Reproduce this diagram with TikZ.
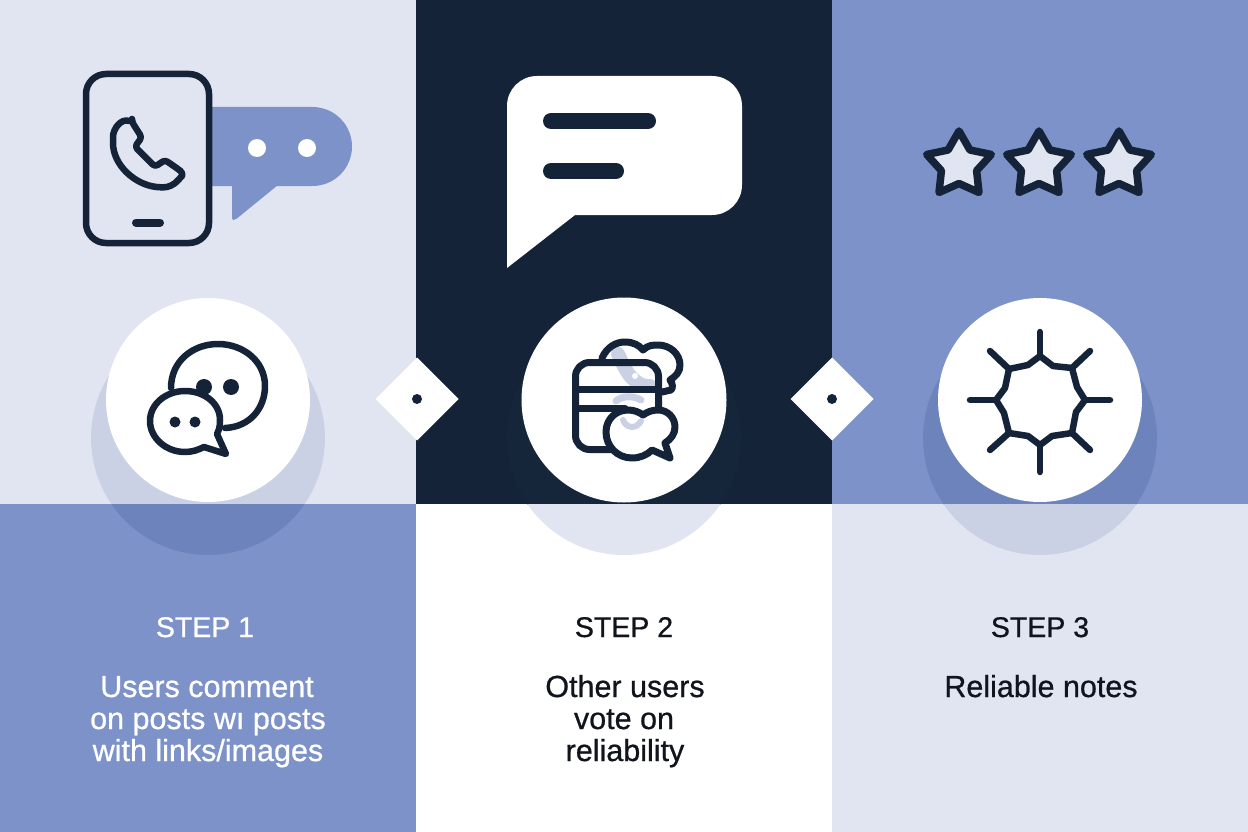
\documentclass[tikz,border=0pt]{standalone}
\usepackage{fontspec}
\setmainfont{Liberation Sans}
\newfontfamily\medfont[FakeBold=0.7]{Liberation Sans}
\definecolor{pale}{HTML}{E1E4F1}
\definecolor{navy}{HTML}{142337}
\definecolor{midblue}{HTML}{7C92C8}
\definecolor{shpale}{HTML}{CBD1E5}
\definecolor{shblue}{HTML}{6C83BC}
\definecolor{shnavy}{HTML}{15253A}
\definecolor{ink}{HTML}{10141C}
\tikzset{
  icon/.style={draw=navy,line width=6.5pt,line cap=round,line join=round},
  steptitle/.style={anchor=base,inner sep=0pt,font=\medfont\fontsize{28.5}{30}\selectfont},
  steptext/.style={anchor=base,inner sep=0pt,font=\medfont\fontsize{30.5}{32}\selectfont},
  starshape/.style={icon,fill=pale,line width=7.5pt},
  ghost/.style={draw=shpale,line cap=round}
}
\newcommand{\drawstar}[1]{%
  \draw[starshape,shift={(#1,165)}] (0,-34) -- (10.9,-15) -- (32.3,-10.5) -- (17.6,5.7) -- (20,27.5)
  -- (0,18.5) -- (-20,27.5) -- (-17.6,5.7) -- (-32.3,-10.5) -- (-10.9,-15) -- cycle;}
\begin{document}
\begin{tikzpicture}[x=1pt,y=-1pt]
\useasboundingbox (0,0) rectangle (1248,832);
% panels
\fill[pale] (0,0) rectangle (416,504);
\fill[navy] (416,0) rectangle (832,504);
\fill[midblue] (832,0) rectangle (1248,504);
\fill[midblue] (0,504) rectangle (416,832);
\fill[white] (416,504) rectangle (832,832);
\fill[pale] (832,504) rectangle (1248,832);
% shadow discs
\begin{scope}\clip (0,0) rectangle (416,504); \fill[shpale] (208,438) circle[radius=117pt]; \end{scope}
\begin{scope}\clip (0,504) rectangle (416,832); \fill[shblue] (208,438) circle[radius=117pt]; \end{scope}
\begin{scope}\clip (416,0) rectangle (832,504); \fill[shnavy] (624,438) circle[radius=117pt]; \end{scope}
\begin{scope}\clip (416,504) rectangle (832,832); \fill[pale] (624,438) circle[radius=117pt]; \end{scope}
\begin{scope}\clip (832,0) rectangle (1248,504); \fill[shblue] (1040,438) circle[radius=117pt]; \end{scope}
\begin{scope}\clip (832,504) rectangle (1248,832); \fill[shpale] (1040,438) circle[radius=117pt]; \end{scope}
% white discs
\fill[white] (208,400) circle[radius=102pt];
\fill[white] (624,400) circle[radius=102.5pt];
\fill[white] (1040,400) circle[radius=102pt];
% diamonds
\fill[white] (417,357.5) -- (458.5,399) -- (417,440.5) -- (375.5,399) -- cycle;
\fill[navy] (417,399) circle[radius=5pt];
\fill[white] (832,357.5) -- (873.5,399) -- (832,440.5) -- (790.5,399) -- cycle;
\fill[navy] (832,399) circle[radius=5pt];
% phone + blue bubble
\fill[midblue] (205,107) [rounded corners=39.5pt] -- (352,107) -- (352,186) [sharp corners] -- (205,186) -- cycle;
\fill[midblue,rounded corners=2pt] (232,183) -- (232,220) -- (235,220) -- (278,185) -- cycle;
\fill[white] (257,148) circle[radius=9pt];
\fill[white] (307,148) circle[radius=9pt];
\draw[icon,fill=pale,rounded corners=20pt] (86,74) rectangle (209,243);
\draw[icon,line width=8pt] (136,222.7) -- (160,222.7);
\draw[icon,rounded corners=3pt] (132,122) -- (141.7,137.3) -- (135,146.7) -- (155,166.7) -- (165,160) -- (178,169)
  .. controls (183,173) and (182,176) .. (180,178)
  .. controls (174,185) and (168,187.5) .. (160,187.3)
  .. controls (135,185) and (113,165) .. (113,140)
  .. controls (113,129) and (121,118) .. (132,122) -- cycle;
% big white bubble
\fill[white] (507,268) [rounded corners=30pt] -- (507,76) -- (742,76) -- (742,215) [sharp corners] -- (575,215) -- cycle;
\draw[navy,line width=16pt,line cap=round] (551,121) -- (648,121);
\draw[navy,line width=16pt,line cap=round] (551,171) -- (616,171);
% stars
\drawstar{959}
\drawstar{1039}
\drawstar{1119}
% icon 1: chat bubbles
\draw[icon] (225,428) .. controls (250,427) and (265,408) .. (265,386)
  .. controls (265,361) and (243,344) .. (218,344)
  .. controls (193,344) and (171,361) .. (171,388);
\fill[navy] (204,387) circle[radius=8pt];
\fill[navy] (231,387) circle[radius=8pt];
\draw[icon,fill=white] (217,434)
  .. controls (220,428) and (220,424) .. (220,420)
  .. controls (220,403) and (204,391) .. (185,391)
  .. controls (166,391) and (150,404) .. (150,421)
  .. controls (150,438) and (166,452) .. (185,452)
  .. controls (192,452) and (198,450) .. (204,447)
  -- (226,454) -- cycle;
\fill[navy] (175,422) circle[radius=5.5pt];
\fill[navy] (195,422) circle[radius=5.5pt];
% icon 2: card and bubbles
\draw[ghost,line width=14pt] (618,354) .. controls (622,362) and (626,372) .. (632,378) .. controls (638,384) and (645,387) .. (650,386);
\fill[white] (635,376) circle[radius=3pt];
\draw[icon,line width=7pt] (602,358) .. controls (607,347) and (616,342) .. (625,342)
  .. controls (633,342) and (639,345) .. (643,350)
  .. controls (648,345) and (653,345) .. (658,345)
  .. controls (670,345) and (680,354) .. (680,365)
  .. controls (680,372) and (676,376) .. (670,380)
  .. controls (673,384) and (673,388) .. (671,390) -- (662,392);
\draw[icon,line width=7pt,rounded corners=14pt] (575.5,362.5) rectangle (658.5,449.5);
\draw[icon,line width=7pt] (575.5,389) -- (658.5,389);
\draw[ghost,line width=7pt] (616,401) .. controls (622,396) and (632,395) .. (641,400);
\draw[icon,line width=7pt] (575.5,408) -- (625,408);
\draw[icon,line width=7pt,fill=white] (606,432)
  .. controls (606,419) and (616,410) .. (628,410)
  .. controls (634,410) and (639,412) .. (643,415)
  .. controls (647,412) and (652,410) .. (658,410)
  .. controls (668,410) and (675,418) .. (675,427)
  .. controls (675,434) and (671,439) .. (665,443)
  -- (670,458) -- (652,450)
  .. controls (647,455) and (640,458) .. (632,458)
  .. controls (617,458) and (606,446) .. (606,432) -- cycle;
\draw[ghost,line width=6pt] (623,420) .. controls (626,428) and (636,430) .. (641,421);
% icon 3: sun
\begin{scope}[shift={(1040,400)}]
\draw[icon] (0,-44) -- (13,-34) -- (32,-32) -- (37,-13) -- (45,0) -- (36,12) -- (32,33) -- (12,36)
  -- (0,45) -- (-12,36) -- (-31,33) -- (-36,13) -- (-44,0) -- (-35,-12) -- (-31,-31) -- (-12,-35) -- cycle;
\draw[icon] (0,-68) -- (0,-44);
\draw[icon] (50,-49) -- (32,-32);
\draw[icon] (70,0) -- (45,0);
\draw[icon] (50,50) -- (32,33);
\draw[icon] (0,72) -- (0,45);
\draw[icon] (-50,50) -- (-31,33);
\draw[icon] (-70,0) -- (-44,0);
\draw[icon] (-50,-49) -- (-31,-31);
\end{scope}
% texts
\node[steptitle,text=white] (t1) at (205,637) {STEP 1};
\node[steptext,text=white] (b1a) at (207,697) {Users comment};
\node[steptext,text=white] (b1b) at (208,729) {on posts wı posts};
\node[steptext,text=white] (b1c) at (208,761) {with links/images};
\node[steptitle,text=ink] (t2) at (624,637) {STEP 2};
\node[steptext,text=ink] (b2a) at (625,697) {Other users};
\node[steptext,text=ink] (b2b) at (624,729) {vote on};
\node[steptext,text=ink] (b2c) at (625,761) {reliability};
\node[steptitle,text=ink] (t3) at (1040,637) {STEP 3};
\node[steptext,text=ink] (b3a) at (1041,697) {Reliable notes};
\end{tikzpicture}
\end{document}
